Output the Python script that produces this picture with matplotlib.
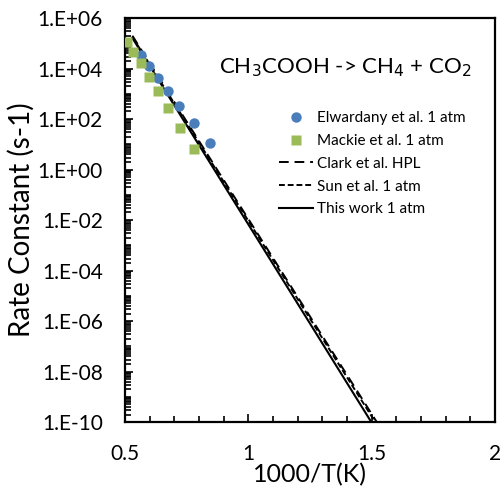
import matplotlib
matplotlib.use("Agg")
import matplotlib.pyplot as plt
from matplotlib.ticker import LogLocator, MultipleLocator, NullFormatter

plt.rcParams['font.family'] = ['Lato', 'DejaVu Sans']

# Data (1000/T, k in s^-1)
elw_x = [0.5645, 0.597, 0.632, 0.673, 0.719, 0.778, 0.843]
elw_k = [10**4.53, 10**4.10, 10**3.64, 10**3.11, 10**2.52, 10**1.83, 10**1.04]
mac_x = [0.509, 0.533, 0.563, 0.596, 0.634, 0.675, 0.722, 0.779]
mac_k = [10**5.06, 10**4.64, 10**4.21, 10**3.68, 10**3.11, 10**2.42, 10**1.66, 10**0.82]
clark_x = [0.530, 1.560]
clark_k = [10**5.30, 10**-10.60]
sun_x = [0.530, 1.560]
sun_k = [10**5.25, 10**-10.70]
this_x = [0.530, 1.560]
this_k = [10**5.21, 10**-10.96]

yticks = [1e-10, 1e-8, 1e-6, 1e-4, 1e-2, 1e0, 1e2, 1e4, 1e6]
ylabels = ['1.E-10', '1.E-08', '1.E-06', '1.E-04', '1.E-02', '1.E+00', '1.E+02', '1.E+04', '1.E+06']
xticks = [0.5, 1.0, 1.5, 2.0]
xlabels = ['0.5', '1', '1.5', '2']

fig = plt.figure(figsize=(5.04, 4.88), dpi=100)
ax = fig.add_axes([0.248, 0.135, 0.734, 0.828])

ax.plot(clark_x, clark_k, color='black', lw=1.4, linestyle=(0, (5, 3)), label='Clark et al. HPL')
ax.plot(sun_x, sun_k, color='black', lw=1.4, linestyle=(0, (3, 1.5)), label='Sun et al. 1 atm')
ax.plot(this_x, this_k, color='black', lw=1.5, linestyle='-', label='This work 1 atm')
ax.plot(elw_x, elw_k, 'o', color='#4a7ebb', ms=7.5, mec='none', label='Elwardany et al. 1 atm', zorder=3)
ax.plot(mac_x, mac_k, 's', color='#9bbb59', ms=7.5, mec='none', label='Mackie et al. 1 atm', zorder=3)

ax.set_yscale('log')
ax.set_xlim(0.5, 2.0)
ax.set_ylim(1e-10, 1e6)

ax.set_yticks(yticks, ylabels)
ax.yaxis.set_minor_locator(LogLocator(base=10, subs=[1, 2, 3, 4, 5, 6, 7, 8, 9], numticks=40))
ax.yaxis.set_minor_formatter(NullFormatter())
ax.set_xticks(xticks, xlabels)
ax.xaxis.set_minor_locator(MultipleLocator(0.1))

ax.tick_params(which='both', direction='in', top=False, right=False, labelsize=15, width=1.2)
ax.tick_params(which='major', length=6)
ax.tick_params(which='minor', length=4)
ax.tick_params(axis='x', pad=16)
ax.tick_params(axis='y', pad=16)
for s in ax.spines.values():
    s.set_linewidth(1.6)

ax.set_xlabel('1000/T(K)', fontsize=18, labelpad=-1)
ax.set_ylabel('Rate Constant (s-1)', fontsize=20, labelpad=2)

ax.text(0.595, 0.876, r'CH$_3$COOH -> CH$_4$ + CO$_2$', transform=ax.transAxes,
        ha='center', va='center', fontsize=16)

handles, labels = ax.get_legend_handles_labels()
order = [3, 4, 0, 1, 2]
ax.legend([handles[i] for i in order], [labels[i] for i in order],
          loc='upper left', bbox_to_anchor=(0.40, 0.785), frameon=False,
          fontsize=11, handlelength=2.2, handletextpad=0.3, labelspacing=0.58,
          borderaxespad=0)

fig.savefig('out.png', dpi=100)
